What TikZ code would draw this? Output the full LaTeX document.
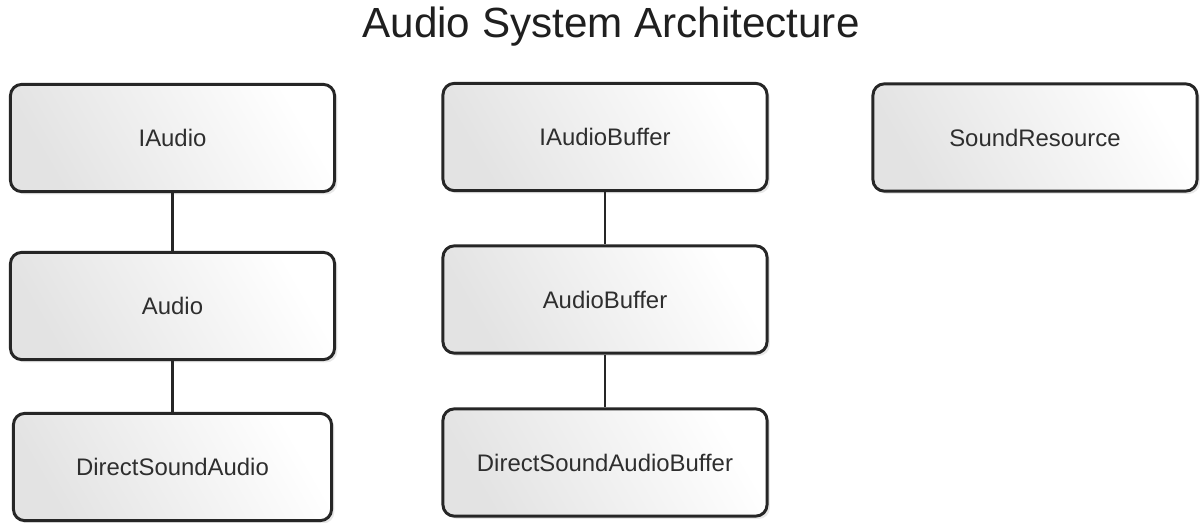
\documentclass[tikz,border=0pt]{standalone}
\usepackage{fontspec}
\setmainfont{Liberation Sans}
\usetikzlibrary{shadows}

\begin{document}
\begin{tikzpicture}[x=0.025cm,y=-0.025cm]
  % Styles local to this figure.
  \tikzset{
    cls/.style={draw=black!85,line width=2.1pt,rounded corners=8pt,
      minimum width=8.1cm,minimum height=2.68cm,inner sep=0pt,
      left color=black!11,right color=white,shading angle=120,
      drop shadow={opacity=0.18,shadow xshift=2pt,shadow yshift=-2pt},
      text=black!82,font=\fontsize{17}{20}\selectfont},
    wire/.style={draw=black!85,line width=1.8pt},
    ttl/.style={text=black!88,font=\fontsize{30}{34}\selectfont}
  }
  \useasboundingbox (0,0) rectangle (1201,522);

  % Title.
  \node[ttl] (title) at (611,27) {Audio System Architecture};

  % Audio column.
  \node[cls] (ia) at (172.5,138) {IAudio};
  \node[cls] (au) at (172.5,306) {Audio};
  \node[cls,minimum width=7.95cm] (dsa) at (172.5,467) {DirectSoundAudio};

  % Buffer column.
  \node[cls] (iab) at (605,137) {IAudioBuffer};
  \node[cls] (ab) at (605,299.5) {AudioBuffer};
  \node[cls] (dsab) at (605,462.5) {DirectSoundAudioBuffer};

  % Stand-alone resource.
  \node[cls] (sr) at (1035,137.5) {SoundResource};

  % Links.
  \draw[wire] (ia) -- (au);
  \draw[wire] (au) -- (dsa);
  \draw[wire] (iab) -- (ab);
  \draw[wire] (ab) -- (dsab);
\end{tikzpicture}
\end{document}
